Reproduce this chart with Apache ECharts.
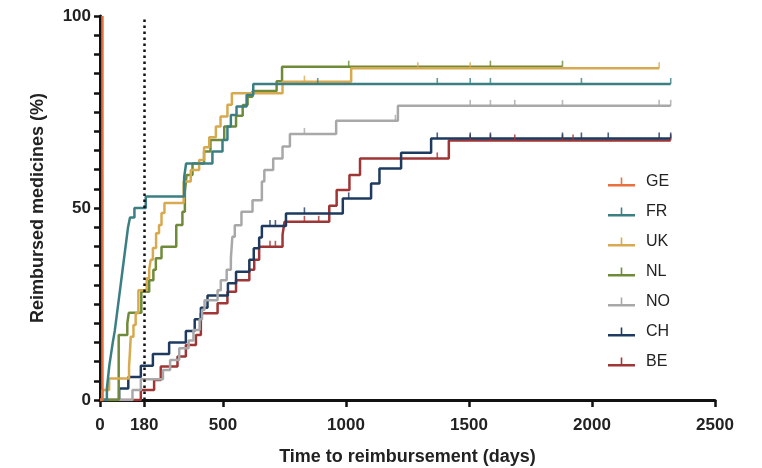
<!DOCTYPE html>
<html>
<head>
<meta charset="utf-8">
<script src="https://cdn.jsdelivr.net/npm/echarts@6/dist/echarts.min.js"></script>
<style>
html,body{margin:0;padding:0;background:#fff;}
#chart{width:762px;height:468px;}
</style>
</head>
<body>
<div id="chart"></div>
<script>
// ---- Data (time in days, % reimbursed) ----
const countries = ['GE','FR','UK','NL','NO','CH','BE'];
const xTickValues = [0,180,500,1000,1500,2000,2500];
const yTickLabels = [0,50,100];

const GE = [[0,0],[10,100]];
const FR = [[0,0],[28,3],[33,6],[38,9],[45,12],[52,15],[60,18],[66,21],[72,24],[78,27],[84,30],[90,33],[96,36],[102,39],[108,42],[114,45],[122,47.5],[140,50],[186,53],[342,58],[350,61.6],[457,64.7],[498,67.7],[518,71.2],[532,74.2],[555,76.4],[596,79.4],[623,82.3],[2320,82.3]];
const UK = [[0,0],[9,2.6],[37,5.6],[118,8.7],[121,11.7],[125,16.5],[136,19.5],[145,22.6],[156,28.6],[190,31.7],[200,33.9],[206,36.5],[215,39.6],[228,43.4],[240,45.6],[250,48.7],[262,51.3],[340,56.9],[369,59.9],[403,62.5],[423,65.8],[444,68.4],[471,71.2],[490,73.8],[518,76.9],[536,79.9],[742,82.9],[1021,86.4],[2273,86.4]];
const NL = [[0,0],[76,16.9],[111,20],[117,22.7],[168,28.2],[200,31.2],[217,33.9],[227,36.9],[250,39.9],[310,45.6],[335,49],[345,54.2],[352,58.6],[376,61.6],[423,64.7],[449,67.7],[505,71.2],[553,74],[580,76.8],[600,79],[620,80.5],[718,83],[740,86.8],[1880,86.8]];
const NO = [[0,0],[132,2.6],[166,5.4],[256,7.8],[285,10.4],[322,13.5],[360,15.5],[380,18.2],[405,21],[415,23.5],[425,26],[478,28.6],[491,31.2],[515,33.9],[532,36.9],[538,42.5],[548,45.5],[575,49],[620,52],[658,56.9],[668,59.9],[704,62.9],[742,66],[772,69.3],[960,72.7],[1211,76.6],[2320,76.6]];
const CH = [[0,0],[78,3],[115,6],[166,8.9],[215,12],[281,15],[349,18],[385,21],[410,24],[437,27.2],[520,30.4],[553,33.4],[607,36.5],[625,39.5],[647,42.3],[658,45.3],[756,48.6],[987,52.5],[1102,56.4],[1136,60.3],[1224,64.4],[1346,68.1],[2320,68.1]];
const BE = [[0,0],[166,2.6],[220,5.2],[247,8.7],[315,11.3],[349,14.3],[390,16.9],[410,22.6],[478,25.2],[518,28.2],[553,31.2],[607,33.9],[627,36.5],[647,39.9],[742,43],[750,46.4],[932,50.6],[962,54.7],[1014,58.6],[1057,62.9],[1418,67.6],[2320,67.6]];

// censored observations (tick marks)
const FR_censor = [[885,82.3],[1371,82.3],[1505,82.3],[1587,82.3],[1957,82.3],[2320,82.3]];
const UK_censor = [[831,82.9],[1292,86.4],[1505,86.4],[2273,86.4]];
const NL_censor = [[1011,86.8],[1587,86.8],[1880,86.8]];
const NO_censor = [[831,69.3],[1201,72.7],[1505,76.6],[1587,76.6],[1686,76.6],[1880,76.6],[2273,76.6],[2320,76.6]];
const CH_censor = [[691,45.3],[713,45.3],[831,48.6],[1011,52.5],[1371,68.1],[1505,68.1],[1587,68.1],[1880,68.1],[1957,68.1],[2066,68.1],[2273,68.1],[2320,68.1]];
const BE_censor = [[691,39.9],[713,39.9],[831,46.4],[889,46.4],[1371,62.9],[1505,67.6],[1587,67.6],[1686,67.6],[1880,67.6],[1923,67.6],[2320,67.6]];

const reference180 = 180;

// ---- Styling ----
const colors = {GE:'#E9703F',FR:'#3B7F82',UK:'#D8AA50',NL:'#6F8B3A',NO:'#A8A8A8',CH:'#1E3A5F',BE:'#A03535'};
const curves = {GE,FR,UK,NL,NO,CH,BE};
const censors = {GE:[],FR:FR_censor,UK:UK_censor,NL:NL_censor,NO:NO_censor,CH:CH_censor,BE:BE_censor};
const FONT = '"Liberation Sans", Arial, Helvetica, sans-serif';
const legendIcon = 'path://M0,6.5h27v2.5h-27zM12.7,0h1.6v6.5h-1.6z';

const drawOrder = ['BE','CH','NO','NL','UK','FR','GE'];
const series = [];
drawOrder.forEach(function(k){
  series.push({
    name:k, type:'line', step:'end', data:curves[k], showSymbol:false, symbol:'none',
    lineStyle:{width:2.5,color:colors[k]}, itemStyle:{color:colors[k]},
    silent:true, z:2
  });
  if (censors[k].length) {
    series.push({
      name:k+'-censor', type:'scatter', data:censors[k], symbol:'rect',
      symbolSize:[1.6,6], symbolOffset:[0,-3],
      itemStyle:{color:colors[k]}, silent:true, z:3
    });
  }
});
series.push({
  name:'ref', type:'line', data:[], silent:true,
  markLine:{
    silent:true, symbol:'none', label:{show:false},
    lineStyle:{color:'#111',width:2.5,type:[2.5,3.5]},
    data:[[{coord:[reference180,0]},{coord:[reference180,100]}]]
  }
});

const plain = function(v){ return String(v); };
const yLabel = function(v){ return yTickLabels.indexOf(v) >= 0 ? String(v) : ''; };

const chart = echarts.init(document.getElementById('chart'));
chart.setOption({
  animation:false,
  backgroundColor:'#fff',
  grid:{left:100,right:47,top:16,bottom:68,containLabel:false,outerBoundsMode:'none'},
  legend:{
    orient:'vertical', left:603, top:169,
    data:countries.map(function(c){return {name:c, icon:legendIcon};}),
    itemWidth:27, itemHeight:9, itemGap:14,
    selectedMode:false,
    textStyle:{fontFamily:FONT,fontSize:16,color:'#222',padding:[0,0,0,6]}
  },
  xAxis:{
    type:'value', min:0, max:2500, interval:500,
    name:'Time to reimbursement (days)', nameLocation:'middle', nameGap:48,
    nameTextStyle:{fontFamily:FONT,fontSize:18,fontWeight:'bold',color:'#222'},
    axisLine:{show:true,onZero:false,lineStyle:{color:'#111',width:3}},
    axisTick:{show:true,length:7,lineStyle:{color:'#111',width:2.5},customValues:xTickValues},
    axisLabel:{fontFamily:FONT,fontSize:17,fontWeight:'bold',color:'#222',margin:17,customValues:xTickValues,formatter:plain},
    splitLine:{show:false}
  },
  yAxis:{
    type:'value', min:0, max:100, interval:5,
    name:'Reimbursed medicines (%)', nameLocation:'middle', nameGap:53,
    nameTextStyle:{fontFamily:FONT,fontSize:18,fontWeight:'bold',color:'#222'},
    axisLine:{show:true,onZero:false,lineStyle:{color:'#111',width:3}},
    axisTick:{show:true,length:6,interval:0,lineStyle:{color:'#111',width:2.5}},
    axisLabel:{fontFamily:FONT,fontSize:17,fontWeight:'bold',color:'#222',margin:9,interval:0,formatter:yLabel},
    splitLine:{show:false}
  },
  series:series
});
</script>
</body>
</html>
